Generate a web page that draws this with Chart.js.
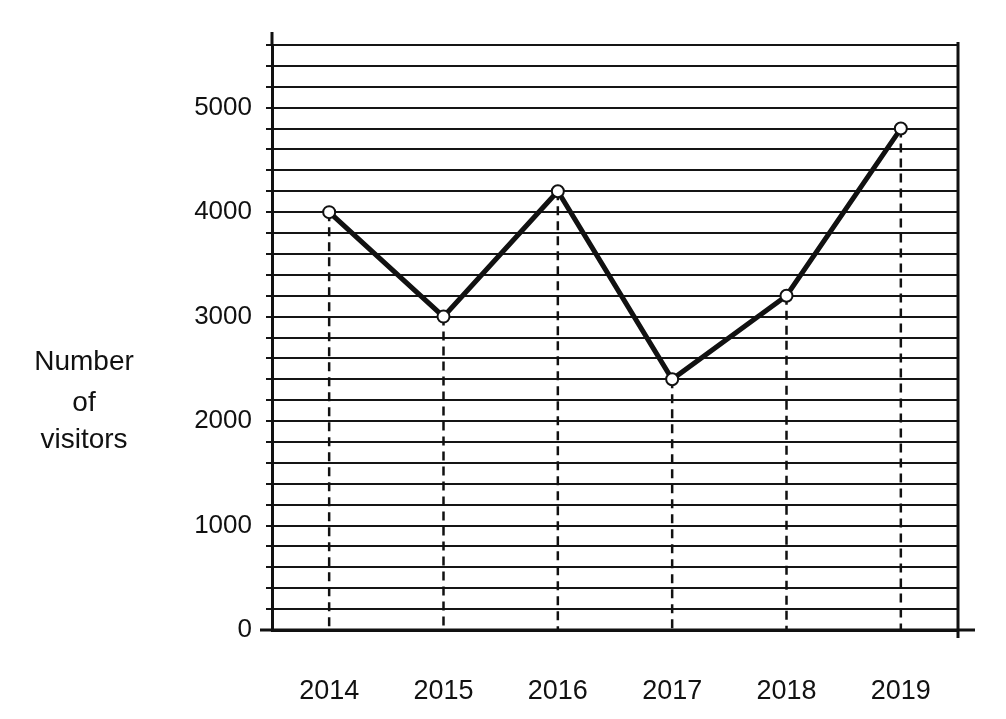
<!DOCTYPE html>
<html>
<head>
<meta charset="utf-8">
<script src="https://cdn.jsdelivr.net/npm/chart.js@4"></script>
<style>
  html, body { margin: 0; padding: 0; background: #fff; }
  #chart { display: block; }
</style>
</head>
<body>
<canvas id="chart" width="1006" height="719"></canvas>
<script>
// ---------- DATA ----------
const years = ["2014", "2015", "2016", "2017", "2018", "2019"];
const visitors = [4000, 3000, 4200, 2400, 3200, 4800];
const yTitleLines = ["Number", "of", "visitors"];
const yMax = 5600;
const gridStep = 200;
const labelStep = 1000;

const FONT = "'Liberation Sans', Arial, sans-serif";
const INK = "#111";

// ---------- EXTRA DRAWING ----------
const framePlugin = {
  id: "frame",
  beforeDatasetsDraw(chart) {
    // dashed drop lines from each point to the x axis
    const { ctx, chartArea } = chart;
    const meta = chart.getDatasetMeta(0);
    ctx.save();
    ctx.strokeStyle = INK;
    ctx.lineWidth = 2.5;
    ctx.setLineDash([9, 6]);
    meta.data.forEach(pt => {
      ctx.beginPath();
      ctx.moveTo(pt.x, pt.y);
      ctx.lineTo(pt.x, chartArea.bottom);
      ctx.stroke();
    });
    ctx.restore();
  },
  afterDraw(chart) {
    const { ctx, chartArea } = chart;
    ctx.save();
    ctx.strokeStyle = INK;
    ctx.lineWidth = 3;
    // left axis sticks up past top grid line
    ctx.beginPath();
    ctx.moveTo(chartArea.left, chartArea.top - 13);
    ctx.lineTo(chartArea.left, chartArea.top);
    ctx.stroke();
    // right frame line
    ctx.beginPath();
    ctx.moveTo(chartArea.right, chartArea.top - 3);
    ctx.lineTo(chartArea.right, chartArea.bottom + 8);
    ctx.stroke();
    // bottom line runs a little past both ends
    ctx.beginPath();
    ctx.moveTo(chartArea.left - 12, chartArea.bottom);
    ctx.lineTo(chartArea.right + 17, chartArea.bottom);
    ctx.stroke();

    // y axis title, three centred lines
    ctx.fillStyle = INK;
    ctx.font = "28px " + FONT;
    ctx.textAlign = "center";
    ctx.textBaseline = "middle";
    const ys = [362, 403, 440];
    yTitleLines.forEach((t, i) => ctx.fillText(t, 84, ys[i]));
    ctx.restore();
  }
};

// ---------- CHART ----------
new Chart(document.getElementById("chart"), {
  type: "line",
  data: {
    labels: years,
    datasets: [{
      data: visitors,
      borderColor: INK,
      borderWidth: 5,
      tension: 0,
      pointRadius: 6,
      pointHoverRadius: 6,
      pointBackgroundColor: "#fff",
      pointBorderColor: INK,
      pointBorderWidth: 2
    }]
  },
  options: {
    responsive: false,
    animation: false,
    devicePixelRatio: 1,
    layout: { padding: { left: 0, top: 45, right: 48, bottom: 0 } },
    plugins: { legend: { display: false }, tooltip: { enabled: false } },
    scales: {
      x: {
        offset: true,
        grid: { display: false, drawTicks: false },
        border: { display: true, color: INK, width: 3 },
        ticks: { color: INK, font: { family: FONT, size: 27 }, padding: 45, maxRotation: 0 },
        afterFit: (s) => { s.height = 89; }
      },
      y: {
        min: 0,
        max: yMax,
        grid: { color: "#151515", lineWidth: 2, drawTicks: true, tickLength: 6 },
        border: { display: true, color: INK, width: 3 },
        ticks: {
          stepSize: gridStep,
          autoSkip: false,
          color: INK,
          padding: 14,
          font: { family: FONT, size: 26 },
          callback: (v) => (v % labelStep === 0 ? String(v) : "")
        },
        afterFit: (s) => { s.width = 272; }
      }
    }
  },
  plugins: [framePlugin]
});
</script>
</body>
</html>
